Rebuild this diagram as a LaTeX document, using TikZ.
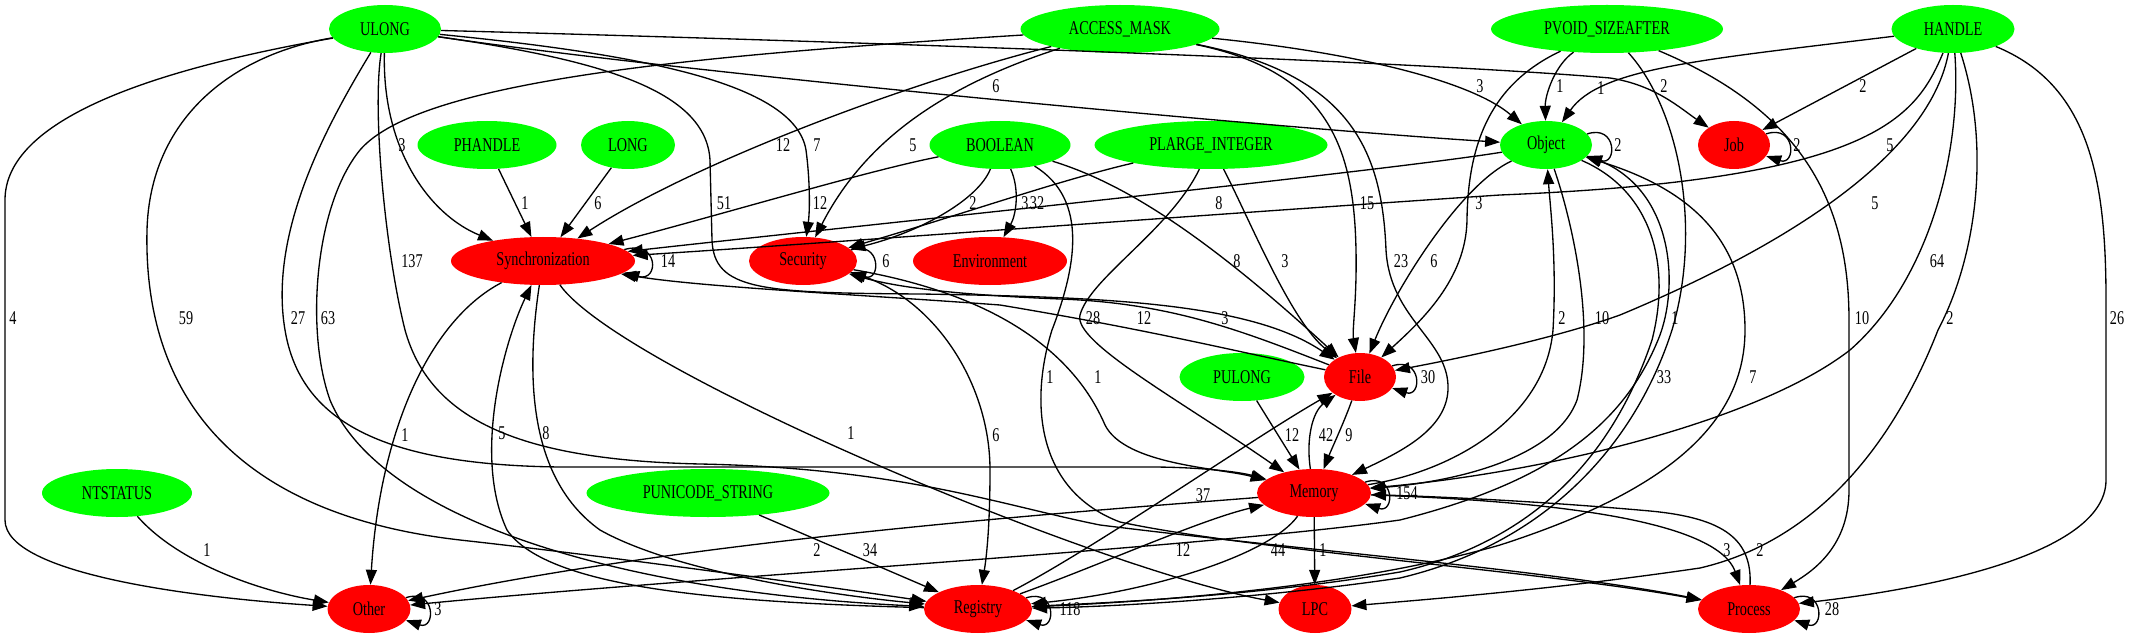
\documentclass[tikz,border=0pt]{standalone}
\usepackage{fontspec}
\setmainfont[FakeStretch=0.73]{Liberation Serif}
\usetikzlibrary{shapes.geometric,arrows.meta}

\begin{document}
\begin{tikzpicture}[x=1pt,y=-1pt,font=\fontsize{19.5}{21}\selectfont,
  type/.style={ellipse,fill=green,inner sep=0pt,minimum height=48pt},
  cat/.style={ellipse,fill=red,inner sep=0pt,minimum height=48pt},
  link/.style={-{Triangle[length=15pt,width=11pt]},line width=1.33pt},
  lbl/.style={inner sep=0pt}]
  \useasboundingbox (0,0) rectangle (2129,639);
  % argument types
  \node[type,minimum width=112pt] (ulong) at (385,29) {ULONG};
  \node[type,minimum width=199pt] (accessmask) at (1120,29) {ACCESS\_MASK};
  \node[type,minimum width=232pt] (pvoid) at (1607,29) {PVOID\_SIZEAFTER};
  \node[type,minimum width=123pt] (handle) at (1953,29) {HANDLE};
  \node[type,minimum width=139pt] (phandle) at (487,145) {PHANDLE};
  \node[type,minimum width=94pt] (long) at (628,145) {LONG};
  \node[type,minimum width=141pt] (boolean) at (1000,145) {BOOLEAN};
  \node[type,minimum width=233pt] (plarge) at (1211,145) {PLARGE\_INTEGER};
  \node[type,minimum width=92pt] (object) at (1546,145) {Object};
  \node[type,minimum width=125pt] (pulong) at (1242,377) {PULONG};
  \node[type,minimum width=150pt] (ntstatus) at (117,493) {NTSTATUS};
  \node[type,minimum width=243pt] (punicode) at (708,493) {PUNICODE\_STRING};
  % categories
  \node[cat,minimum width=72pt] (job) at (1734,145) {Job};
  \node[cat,minimum width=184pt] (sync) at (543,261) {Synchronization};
  \node[cat,minimum width=108pt] (security) at (803,261) {Security};
  \node[cat,minimum width=154pt] (environment) at (990,261) {Environment};
  \node[cat,minimum width=72pt] (file) at (1360,377) {File};
  \node[cat,minimum width=114pt] (memory) at (1314,493) {Memory};
  \node[cat,minimum width=83pt] (other) at (369,609) {Other};
  \node[cat,minimum width=108pt] (registry) at (978,609) {Registry};
  \node[cat,minimum width=73pt] (lpc) at (1315,609) {LPC};
  \node[cat,minimum width=102pt] (process) at (1749,609) {Process};

  % ULONG
  \draw[link] (ulong) .. controls (150,70) and (5,120) .. (5,200) -- (5,520) .. controls (5,575) and (200,598) .. (other) node[lbl] at (13,318) {4};
  \draw[link] (ulong) .. controls (230,55) and (150,120) .. (147,230) .. controls (143,400) and (240,515) .. (460,540) .. controls (640,560) and (850,590) .. (registry) node[lbl] at (186,318) {59};
  \draw[link] (ulong) .. controls (330,120) and (268,230) .. (285,330) .. controls (300,420) and (380,465) .. (560,467) -- (1150,467) .. controls (1200,467) and (1240,472) .. (memory) node[lbl] at (298,318) {27};
  \draw[link] (ulong) .. controls (382,150) and (430,215) .. (sync) node[lbl] at (402,145) {3};
  \draw[link] (ulong) .. controls (372,110) and (385,250) .. (405,330) .. controls (430,420) and (520,460) .. (700,464) .. controls (900,468) and (1000,505) .. (1100,525) .. controls (1300,550) and (1550,570) .. (process) node[lbl] at (412,261) {137};
  \draw[link] (ulong) .. controls (600,60) and (706,90) .. (710,160) -- (712,240) .. controls (714,290) and (760,293) .. (921,294) .. controls (1100,297) and (1250,302) .. (file) node[lbl] at (724,203) {51};
  \draw[link] (ulong) .. controls (650,55) and (795,85) .. (806,150) .. controls (810,180) and (810,210) .. (security) node[lbl] at (817,145) {7};
  \draw[link] (ulong) .. controls (700,75) and (1300,130) .. (object) node[lbl] at (996,86) {6};
  \draw[link] (ulong) .. controls (800,40) and (1400,60) .. (1610,78) .. controls (1655,85) and (1680,108) .. (job);

  % ACCESS_MASK
  \draw[link] (accessmask) .. controls (700,55) and (420,80) .. (360,150) .. controls (315,205) and (305,330) .. (330,400) .. controls (380,520) and (620,592) .. (registry) node[lbl] at (328,318) {63};
  \draw[link] (accessmask) .. controls (900,85) and (690,165) .. (sync) node[lbl] at (783,145) {12};
  \draw[link] (accessmask) .. controls (930,90) and (860,150) .. (security) node[lbl] at (913,145) {5};
  \draw[link] (accessmask) .. controls (1330,72) and (1354,150) .. (1356,250) .. controls (1357,300) and (1352,330) .. (file) node[lbl] at (1367,203) {15};
  \draw[link] (accessmask) .. controls (1350,75) and (1382,150) .. (1386,250) .. controls (1390,320) and (1450,340) .. (1448,390) .. controls (1446,430) and (1400,452) .. (memory) node[lbl] at (1401,261) {23};
  \draw[link] (accessmask) .. controls (1350,52) and (1470,80) .. (object) node[lbl] at (1480,86) {3};

  % PVOID_SIZEAFTER
  \draw[link] (pvoid) .. controls (1555,65) and (1545,95) .. (object) node[lbl] at (1560,86) {1};
  \draw[link] (pvoid) .. controls (1500,80) and (1468,130) .. (1467,220) .. controls (1466,280) and (1420,322) .. (file) node[lbl] at (1479,203) {3};
  \draw[link] (pvoid) .. controls (1680,110) and (1702,230) .. (1672,330) .. controls (1640,430) and (1560,540) .. (1400,578) .. controls (1250,600) and (1100,607) .. (registry) node[lbl] at (1664,86) {2};
  \draw[link] (pvoid) .. controls (1800,110) and (1849,200) .. (1849,320) -- (1849,490) .. controls (1849,545) and (1815,570) .. (process) node[lbl] at (1862,318) {10};

  % HANDLE
  \draw[link] (handle) .. controls (1700,60) and (1600,68) .. (object) node[lbl] at (1601,88) {1};
  \draw[link] (handle) -- (job) node[lbl] at (1863,86) {2};
  \draw[link] (handle) .. controls (1915,120) and (1870,180) .. (1500,195) .. controls (1200,215) and (800,245) .. (sync) node[lbl] at (1890,145) {5};
  \draw[link] (handle) .. controls (1930,150) and (1800,240) .. (1620,315) .. controls (1550,340) and (1450,360) .. (file) node[lbl] at (1875,203) {5};
  \draw[link] (handle) .. controls (1962,150) and (1930,280) .. (1850,350) .. controls (1760,420) and (1550,472) .. (memory) node[lbl] at (1937,261) {64};
  \draw[link] (handle) .. controls (1992,150) and (1975,260) .. (1938,330) .. controls (1895,440) and (1820,540) .. (1700,568) .. controls (1550,590) and (1420,600) .. (lpc) node[lbl] at (1950,318) {2};
  \draw[link] (handle) .. controls (2090,85) and (2106,180) .. (2106,300) -- (2106,480) .. controls (2106,560) and (1900,592) .. (process) node[lbl] at (2117,318) {26};

  % second row
  \draw[link] (phandle) -- (sync) node[lbl] at (525,203) {1};
  \draw[link] (long) -- (sync) node[lbl] at (598,203) {6};
  \draw[link] (boolean) .. controls (870,170) and (720,215) .. (sync) node[lbl] at (820,203) {12};
  \draw[link] (boolean) .. controls (978,200) and (920,232) .. (security) node[lbl] at (973,203) {2};
  \draw[link] (boolean) .. controls (1020,190) and (1016,215) .. (environment) node[lbl] at (1025,203) {3};
  \draw[link] (boolean) .. controls (1120,182) and (1200,230) .. (file) node[lbl] at (1237,261) {8};
  \draw[link] (boolean) .. controls (1090,200) and (1075,270) .. (1052,330) .. controls (1030,400) and (1035,490) .. (1120,522) .. controls (1250,550) and (1550,572) .. (process) node[lbl] at (1050,377) {1};
  \draw[link] (plarge) .. controls (1060,180) and (960,215) .. (security) node[lbl] at (1037,203) {32};
  \draw[link] (plarge) .. controls (1250,220) and (1290,320) .. (file) node[lbl] at (1285,261) {3};
  \draw[link] (plarge) .. controls (1170,230) and (1090,278) .. (1080,315) .. controls (1073,342) and (1180,400) .. (memory) node[lbl] at (1093,318) {28};

  % Object
  \draw[link] (object.15) .. controls +(30,-10) and +(30,10) .. (object.-15) node[lbl] at (1618,145) {2};
  \draw[link] (object) .. controls (1380,172) and (800,232) .. (sync) node[lbl] at (1219,203) {8};
  \draw[link] (object) .. controls (1460,185) and (1395,290) .. (file) node[lbl] at (1434,261) {6};
  \draw[link] (object) .. controls (1575,230) and (1595,330) .. (1577,400) .. controls (1555,460) and (1450,482) .. (memory) node[lbl] at (1602,318) {10};
  \draw[link] (object) .. controls (1650,190) and (1672,262) .. (1652,340) .. controls (1615,450) and (1540,540) .. (1400,572) .. controls (1250,597) and (1100,603) .. (registry) node[lbl] at (1664,377) {33};
  \draw[link] (object) .. controls (1672,180) and (1680,280) .. (1660,335) .. controls (1625,425) and (1550,482) .. (1400,520) .. controls (1200,548) and (700,577) .. (other) node[lbl] at (1675,318) {1};
  \draw[link] (job.19) .. controls +(30,-10) and +(30,10) .. (job.-19) node[lbl] at (1797,145) {2};

  % Synchronization and Security
  \draw[link] (sync.8) .. controls +(35,-10) and +(35,10) .. (sync.-8) node[lbl] at (668,261) {14};
  \draw[link] (sync) .. controls (430,320) and (380,430) .. (other) node[lbl] at (405,435) {1};
  \draw[link] (registry) .. controls (700,602) and (545,585) .. (507,530) .. controls (472,455) and (505,340) .. (sync) node[lbl] at (502,433) {5};
  \draw[link] (sync) .. controls (525,380) and (530,480) .. (600,530) .. controls (680,575) and (850,597) .. (registry) node[lbl] at (546,433) {8};
  \draw[link] (sync) .. controls (620,370) and (1100,570) .. (lpc) node[lbl] at (851,433) {1};
  \draw[link] (file) .. controls (1230,350) and (1150,330) .. (1000,305) .. controls (850,294) and (700,287) .. (sync) node[lbl] at (1144,318) {12};
  \draw[link] (file) .. controls (1240,330) and (1170,303) .. (1060,299) .. controls (960,295) and (900,288) .. (security) node[lbl] at (1225,318) {3};
  \draw[link] (security.13) .. controls +(30,-10) and +(30,10) .. (security.-13) node[lbl] at (886,261) {6};
  \draw[link] (security) .. controls (930,292) and (990,380) .. (990,470) .. controls (990,530) and (986,560) .. (registry) node[lbl] at (996,435) {6};
  \draw[link] (security) .. controls (1000,295) and (1075,355) .. (1105,425) .. controls (1125,465) and (1220,468) .. (memory) node[lbl] at (1098,377) {1};

  % File and Memory
  \draw[link] (pulong) -- (memory) node[lbl] at (1292,435) {12};
  \draw[link] (memory) .. controls (1306,440) and (1312,412) .. (file) node[lbl] at (1326,435) {42};
  \draw[link] (file) .. controls (1345,420) and (1332,448) .. (memory) node[lbl] at (1349,435) {9};
  \draw[link] (file.19) .. controls +(30,-10) and +(30,10) .. (file.-19) node[lbl] at (1428,377) {30};
  \draw[link] (registry) .. controls (1100,545) and (1250,440) .. (file) node[lbl] at (1203,495) {37};
  \draw[link] (registry) .. controls (1100,565) and (1200,520) .. (memory) node[lbl] at (1183,550) {12};
  \draw[link] (memory) .. controls (1270,555) and (1150,592) .. (registry) node[lbl] at (1278,550) {44};
  \draw[link] (memory) -- (lpc) node[lbl] at (1323,550) {1};
  \draw[link] (memory.12) .. controls +(30,-10) and +(30,10) .. (memory.-12) node[lbl] at (1407,493) {154};
  \draw[link] (memory) .. controls (1580,502) and (1718,525) .. (process) node[lbl] at (1727,550) {3};
  \draw[link] (process) .. controls (1752,540) and (1725,518) .. (1650,511) .. controls (1550,502) and (1450,497) .. (memory) node[lbl] at (1760,550) {2};
  \draw[link] (memory) .. controls (1100,510) and (700,538) .. (other) node[lbl] at (817,550) {2};
  \draw[link] (registry) .. controls (1150,602) and (1350,588) .. (1500,545) .. controls (1655,495) and (1745,430) .. (1745,330) .. controls (1745,232) and (1680,186) .. (object) node[lbl] at (1753,377) {7};
  \draw[link] (memory) .. controls (1450,472) and (1545,420) .. (1553,330) .. controls (1557,260) and (1550,205) .. (object) node[lbl] at (1562,318) {2};

  % bottom row
  \draw[link] (punicode) -- (registry) node[lbl] at (870,550) {34};
  \draw[link] (ntstatus) .. controls (180,565) and (265,592) .. (other) node[lbl] at (207,550) {1};
  \draw[link] (process.14) .. controls +(30,-10) and +(30,10) .. (process.-14) node[lbl] at (1832,609) {28};
  \draw[link] (registry.13) .. controls +(30,-10) and +(30,10) .. (registry.-13) node[lbl] at (1070,609) {118};
  \draw[link] (other.17) .. controls +(30,-10) and +(30,10) .. (other.-17) node[lbl] at (438,609) {3};
\end{tikzpicture}
\end{document}
